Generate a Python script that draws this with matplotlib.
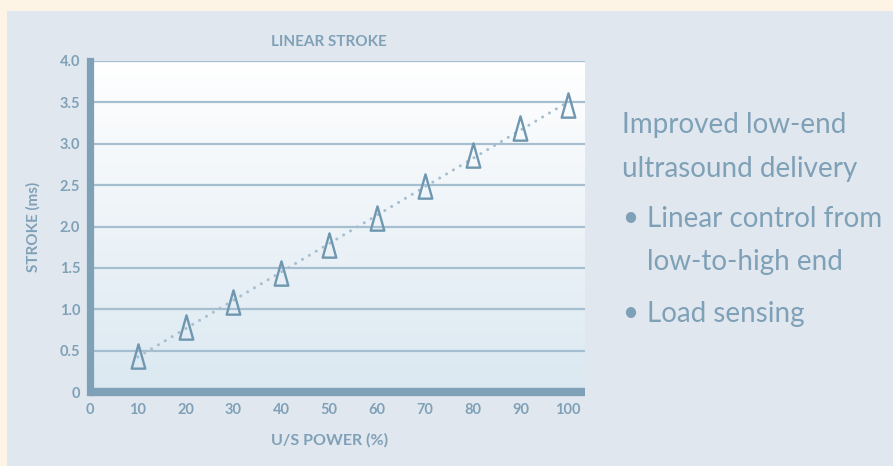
import numpy as np
import matplotlib
matplotlib.use('Agg')
import matplotlib.pyplot as plt
from matplotlib.patches import Rectangle
from matplotlib.colors import LinearSegmentedColormap
from matplotlib.path import Path

# data
power = [10, 20, 30, 40, 50, 60, 70, 80, 90, 100]
stroke = [0.43, 0.79, 1.09, 1.44, 1.78, 2.10, 2.49, 2.87, 3.19, 3.47]
x_ticks = [0, 10, 20, 30, 40, 50, 60, 70, 80, 90, 100]
y_ticks = [0, 0.5, 1.0, 1.5, 2.0, 2.5, 3.0, 3.5, 4.0]
y_tick_labels = ['0', '0.5', '1.0', '1.5', '2.0', '2.5', '3.0', '3.5', '4.0']
side_lines = ['Improved low-end', 'ultrasound delivery']
bullets = [['Linear control from', 'low-to-high end'], ['Load sensing']]

W, H = 893, 466
txt_col = '#7fa1b8'
grid_col = '#a6bfd0'
spine_col = '#7fa1b8'

plt.rcParams['font.family'] = ['Lato', 'DejaVu Sans']

fig = plt.figure(figsize=(W / 100, H / 100), dpi=100, facecolor='#fdf4e6')
fig.patches.append(Rectangle((7 / W, 0), 1 - 7 / W, 1 - 11 / H, transform=fig.transFigure,
                             facecolor='#e1e7ee', edgecolor='none', zorder=-5))

ax = fig.add_axes([90 / W, 1 - 392 / H, (585 - 90) / W, (392 - 61) / H])
ax.set_facecolor('none')

# vertical gradient background of the plot area
grad = np.linspace(0, 1, 256).reshape(-1, 1)
cmap = LinearSegmentedColormap.from_list('bg', ['#ffffff', '#dbe8f1'])
ax.imshow(grad, aspect='auto', cmap=cmap, extent=[0, 1, 0, 1], transform=ax.transAxes,
          zorder=0)

ax.set_xlim(0, 103.5)
ax.set_ylim(0, 4)

for yv in y_ticks[1:]:
    ax.axhline(yv, color=grid_col, lw=1.6, zorder=1)

# trend line
z = np.polyfit(power, stroke, 1)
p = np.poly1d(z)
xs = np.array([power[0], power[-1]])
ax.plot(xs, p(xs), color=grid_col, lw=2.2, linestyle=(0, (0.01, 2.6)),
        dash_capstyle='round', zorder=2)

tri = Path([(-0.28, -0.5), (0.28, -0.5), (0, 0.5), (-0.28, -0.5)], closed=True)
ax.plot(power, stroke, linestyle='none', marker=tri, markersize=17.5,
        markerfacecolor='none', markeredgecolor='#6f97b0', markeredgewidth=1.7, zorder=3)

for s in ['top', 'right']:
    ax.spines[s].set_visible(False)
ax.spines['left'].set_color(spine_col)
ax.spines['left'].set_linewidth(5.2)
ax.spines['bottom'].set_color(spine_col)
ax.spines['bottom'].set_linewidth(6)
ax.spines['bottom'].set_capstyle('butt')
ax.spines['left'].set_zorder(4)
ax.spines['bottom'].set_zorder(4)

ax.set_xticks(x_ticks)
ax.set_yticks(y_ticks)
ax.set_yticklabels(y_tick_labels)
ax.tick_params(length=0, colors=txt_col, labelsize=10.5)
ax.tick_params(axis='x', pad=8)
ax.tick_params(axis='y', pad=7)
for lbl in ax.get_xticklabels() + ax.get_yticklabels():
    lbl.set_fontweight('bold')

ax.text(50, 1 + 19 / (392 - 61), 'LINEAR STROKE', transform=ax.get_xaxis_transform(),
        ha='center', va='center', color=txt_col, fontsize=11, fontweight='bold')
ax.text(50, -48 / (392 - 61), 'U/S POWER (%)', transform=ax.get_xaxis_transform(),
        ha='center', va='center', color=txt_col, fontsize=11.5, fontweight='bold')
fig.text(33 / W, 1 - 227 / H, 'STROKE (ms)', rotation=90, ha='center', va='center',
         color=txt_col, fontsize=11, fontweight='bold')

# side text
fs = 20
fig.text(622 / W, 1 - 133 / H, side_lines[0], color=txt_col, fontsize=fs, va='baseline')
fig.text(622 / W, 1 - 177 / H, side_lines[1], color=txt_col, fontsize=fs, va='baseline')
bl = [[227, 270], [322]]
for lines, ys in zip(bullets, bl):
    fig.text(630 / W, 1 - (ys[0] - 9) / H, '\u2022', color=txt_col, fontsize=fs,
             ha='center', va='center')
    for t, yb in zip(lines, ys):
        fig.text(647 / W, 1 - yb / H, t, color=txt_col, fontsize=fs, va='baseline')

fig.savefig('out.png', dpi=100, facecolor=fig.get_facecolor())
